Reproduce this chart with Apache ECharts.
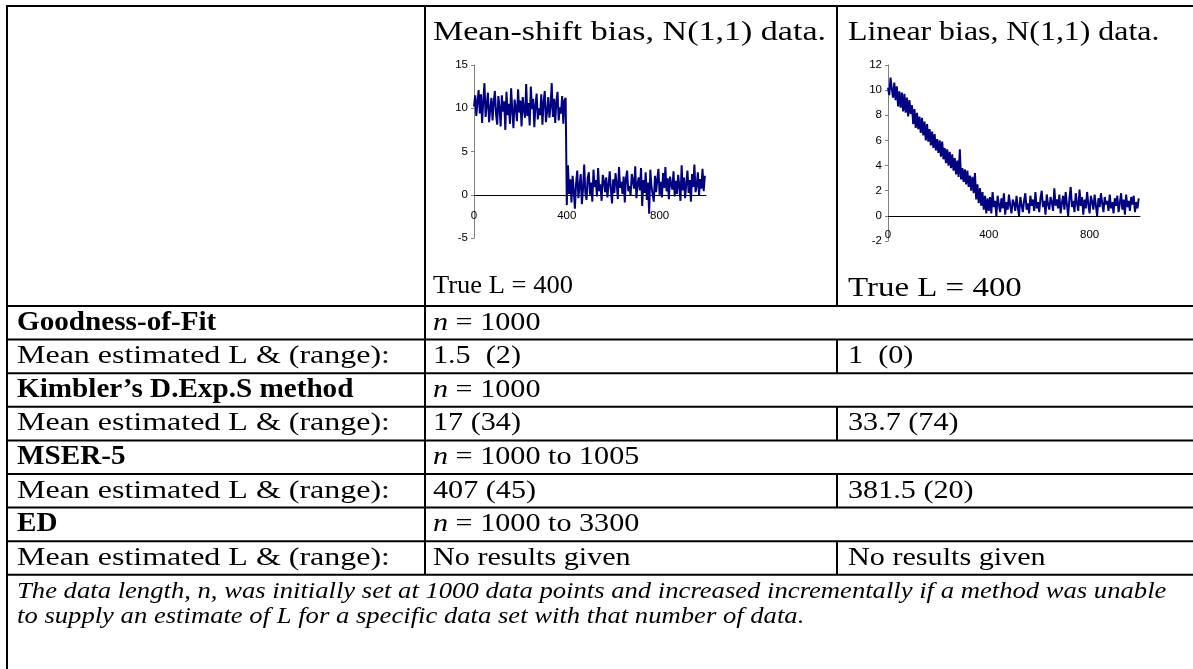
<!DOCTYPE html>
<html>
<head>
<meta charset="utf-8">
<script src="https://cdn.jsdelivr.net/npm/echarts@6/dist/echarts.min.js"></script>
<style>html,body{margin:0;padding:0;background:#fff;}#c{width:1193px;height:669px;}</style>
</head>
<body>
<div id="c"></div>
<script>
// ---------- DATA ----------
const headerTitles = ['Mean-shift bias, N(1,1) data.', 'Linear bias, N(1,1) data.'];
const trueL = ['True L = 400', 'True L = 400'];
const methodNames = ['Goodness-of-Fit', 'Kimbler\u2019s D.Exp.S method', 'MSER-5', 'ED'];
const nRanges = ['= 1000', '= 1000', '= 1000 to 1005', '= 1000 to 3300'];
const rowLabel = 'Mean estimated L & (range):';
const meanShiftResults = ['1.5  (2)', '17 (34)', '407 (45)', 'No results given'];
const linearResults = ['1  (0)', '33.7 (74)', '381.5 (20)', 'No results given'];
const footnote = ['The data length, n, was initially set at 1000 data points and increased incrementally if a method was unable',
                  'to supply an estimate of L for a specific data set with that number of data.'];

const xStep = 5; // one plotted value every 5 observations
const meanShiftY = [
10.2,11.5,9.1,10.8,12.1,9.4,11.6,8.3,10.9,12.9,9.0,10.4,11.8,8.4,9.9,11.2,8.6,10.7,12.0,9.3,
8.1,11.4,10.0,7.9,11.5,9.6,10.8,7.5,11.9,9.2,10.5,8.2,12.3,9.7,7.7,11.0,10.1,8.5,12.2,9.5,
10.9,7.9,11.3,9.8,8.9,12.8,9.1,10.6,8.0,12.5,9.9,11.1,7.8,10.3,11.7,8.7,10.0,9.2,11.6,8.1,
10.7,12.0,8.4,9.6,11.3,8.9,10.2,12.9,9.0,11.1,8.3,10.8,11.9,8.6,10.1,9.4,11.4,8.2,10.9,11.2,
-1.2,3.4,0.1,1.8,-0.9,2.2,0.5,-1.6,1.3,2.8,-0.4,1.0,2.4,-1.1,0.7,3.5,0.2,-0.6,1.9,2.6,
0.0,1.4,-0.8,2.9,0.9,1.7,-0.2,3.1,0.4,1.2,-0.7,2.3,1.6,0.3,2.0,-0.3,1.1,2.7,0.6,-1.0,
1.8,0.2,2.5,1.3,-0.5,3.2,0.8,1.5,0.1,2.1,-0.9,1.9,2.8,0.4,1.0,-0.1,2.4,1.6,0.7,3.3,
-0.4,1.2,2.0,0.5,3.1,-1.3,1.7,0.2,2.6,-0.6,1.4,-2.2,2.9,0.9,1.1,-0.8,2.2,0.3,1.8,3.0,
0.0,1.5,-0.3,2.5,0.8,3.2,0.4,1.9,-0.5,2.1,1.2,0.6,2.7,-0.2,1.6,0.1,2.3,1.0,-0.7,3.4,
0.5,2.0,-0.4,1.3,2.8,0.2,1.7,-0.8,2.4,0.9,3.5,0.3,1.1,2.6,-0.1,1.8,0.7,3.0,0.4,2.2
];
const linearY = [
10.2,9.6,11.0,10.1,9.4,10.6,9.2,10.3,8.7,9.9,8.6,9.8,8.3,9.7,8.2,9.4,7.9,9.2,8.1,8.8,
7.3,8.5,7.0,8.2,6.9,7.9,6.6,7.8,6.4,7.5,6.0,7.3,5.9,6.9,5.6,6.7,5.4,6.5,5.2,6.1,
5.0,6.0,4.7,5.9,4.5,5.4,4.2,5.3,4.0,5.1,3.8,4.9,3.6,4.6,3.3,4.4,3.1,5.3,2.9,3.8,
2.7,3.7,2.5,3.6,2.3,3.2,2.0,3.1,1.8,3.4,1.3,2.5,1.0,2.2,0.8,1.9,0.5,1.6,0.2,1.4,
0.4,1.5,0.2,1.9,0.7,1.2,0.0,1.6,0.9,0.3,1.4,0.6,1.8,0.1,1.1,0.5,1.7,0.8,0.2,1.3,
1.0,0.4,1.6,0.7,0.0,1.5,0.9,0.3,1.2,1.8,0.5,1.0,0.2,1.6,0.8,1.3,0.4,1.9,0.6,1.1,
0.3,1.4,2.0,0.7,1.2,0.1,1.7,0.9,0.5,1.5,1.1,0.4,2.2,0.8,1.3,0.6,1.7,0.2,1.0,1.6,
0.5,1.9,0.9,0.0,1.4,2.3,0.7,1.2,0.3,1.8,1.0,0.4,2.1,0.8,1.5,0.1,1.3,0.6,1.9,0.9,
0.2,1.6,1.1,0.5,1.7,0.8,0.0,1.4,0.7,1.8,1.0,0.3,1.5,0.9,1.2,0.4,1.7,0.6,1.1,0.2,
1.4,0.8,1.6,0.3,1.0,1.8,0.5,1.3,0.1,1.7,0.7,1.2,0.4,1.5,0.9,1.6,0.3,1.1,0.6,1.4
];

// ---------- LAYOUT ----------
const W = 1193;
const leftX = 7, col1X = 425, col2X = 837;
const topY = 6, headerBottom = 306, rowH = 33.6;
const serif = 'Liberation Serif';
const bodySize = 26, bodySX = 1.16;
const boldSize = 27, boldSX = 1.08;
const titleSize = 27;
const footSize = 24, footSX = 1.11;

const graphics = [];
function line(x1, y1, x2, y2, w) {
  graphics.push({type: 'line', silent: true, shape: {x1, y1, x2, y2}, style: {stroke: '#000', lineWidth: w}});
}
function text(str, x, y, opts) {
  opts = opts || {};
  const size = opts.size || bodySize;
  graphics.push({type: 'text', silent: true, x, y, scaleX: opts.sx || bodySX,
    style: {text: str, fill: '#000', fontFamily: serif, fontSize: size,
      fontWeight: opts.bold ? 'bold' : 'normal', fontStyle: opts.italic ? 'italic' : 'normal',
      verticalAlign: 'middle', align: 'left', rich: opts.rich}});
}
const rowLines = [];
for (let i = 0; i <= 8; i++) rowLines.push(headerBottom + i * rowH);
// borders
line(leftX - 1, topY, W, topY, 2);
line(leftX, topY - 1, leftX, 669, 2);
line(col1X, topY, col1X, rowLines[8], 2);
line(col2X, topY, col2X, headerBottom, 2);
rowLines.forEach(y => line(leftX, y, W, y, 2));
for (let i = 0; i < 4; i++) line(col2X, rowLines[2 * i + 1], col2X, rowLines[2 * i + 2], 2);

// header texts
text(headerTitles[0], col1X + 8, 33, {size: titleSize, sx: 1.26});
text(headerTitles[1], col2X + 11, 33, {size: titleSize, sx: 1.18});
text(trueL[0], col1X + 8, 286, {size: 26, sx: 1.02});
text(trueL[1], col2X + 11, 289, {size: 27, sx: 1.22});
const richN = {i: {fontFamily: serif, fontSize: bodySize, fontStyle: 'italic'}, r: {fontFamily: serif, fontSize: bodySize}};
for (let i = 0; i < 4; i++) {
  const yM = (rowLines[2 * i] + rowLines[2 * i + 1]) / 2;
  const yR = (rowLines[2 * i + 1] + rowLines[2 * i + 2]) / 2;
  text(methodNames[i], leftX + 10, yM, {bold: true, size: boldSize, sx: boldSX});
  text('{i|n}{r| ' + nRanges[i] + '}', col1X + 8, yM, {rich: richN});
  text(rowLabel, leftX + 10, yR, {sx: 1.23});
  text(meanShiftResults[i], col1X + 8, yR);
  text(linearResults[i], col2X + 11, yR);
}
text(footnote[0], leftX + 10, rowLines[8] + 17, {italic: true, size: footSize, sx: footSX});
text(footnote[1], leftX + 10, rowLines[8] + 42, {italic: true, size: footSize, sx: footSX});

// ---------- CHARTS ----------
const pairs = arr => arr.map((v, i) => [i * xStep, v]);
const axisLab = {fontFamily: 'Liberation Sans', fontSize: 11.5, color: '#000'};

const chart = echarts.init(document.getElementById('c'));
chart.setOption({
  animation: false,
  grid: [
    {left: 474, top: 65, width: 232, height: 173},
    {left: 888, top: 65, width: 252, height: 176}
  ],
  xAxis: [
    {gridIndex: 0, labelMargin: -28},
    {gridIndex: 1, labelMargin: -12}
  ].map(a => ({
    type: 'value', gridIndex: a.gridIndex, min: 0, max: 1000, interval: 400,
    axisLine: {onZero: true, lineStyle: {color: '#000', width: 1}},
    axisTick: {show: false}, splitLine: {show: false},
    axisLabel: Object.assign({margin: a.labelMargin, showMaxLabel: false}, axisLab)
  })),
  yAxis: [
    {type: 'value', gridIndex: 0, min: -5, max: 15, interval: 5},
    {type: 'value', gridIndex: 1, min: -2, max: 12, interval: 2}
  ].map(a => Object.assign(a, {
    axisLine: {show: true, onZero: false, lineStyle: {color: '#808080', width: 1}},
    axisTick: {show: true, inside: false, length: 3, lineStyle: {color: '#808080'}},
    splitLine: {show: false},
    axisLabel: Object.assign({margin: 6}, axisLab)
  })),
  series: [
    {type: 'line', xAxisIndex: 0, yAxisIndex: 0, data: pairs(meanShiftY), showSymbol: false,
     lineStyle: {color: '#000080', width: 2}, z: 1},
    {type: 'line', xAxisIndex: 1, yAxisIndex: 1, data: pairs(linearY), showSymbol: false,
     lineStyle: {color: '#000080', width: 2}, z: 1}
  ],
  graphic: graphics
});
</script>
</body>
</html>
